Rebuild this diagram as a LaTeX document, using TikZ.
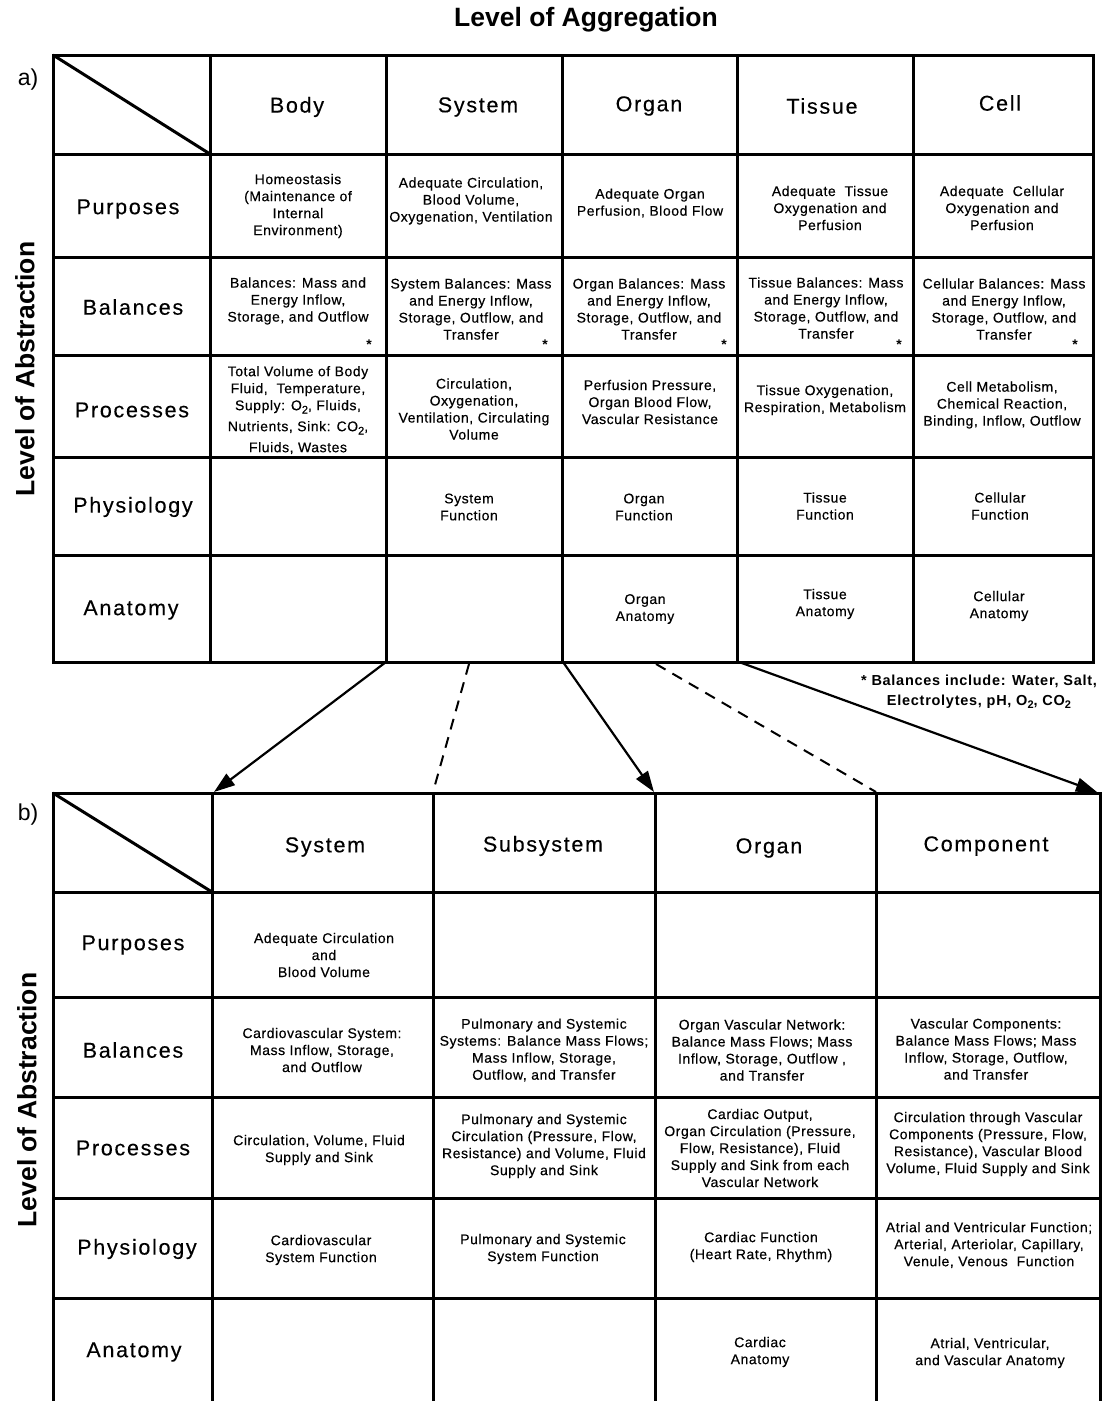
\documentclass[tikz,border=0pt]{standalone}
\usepackage{fontspec}
\setmainfont{Liberation Sans}
\newfontfamily\cellfont[LetterSpace=4,FakeBold=0.4]{Liberation Sans}
\newfontfamily\headfont[LetterSpace=8,FakeBold=0.3]{Liberation Sans}
\newfontfamily\notefont[LetterSpace=5]{Liberation Sans}
\usetikzlibrary{arrows.meta}
% lowered subscript digit for chemical formulas
\newcommand\lowtwo{\raisebox{-0.45ex}{\fontsize{11}{11}\selectfont 2}}
\tikzset{
  grid line/.style={line width=3pt},
  cell/.style={font=\cellfont\fontsize{14}{17}\selectfont, align=center, inner sep=0pt},
  head/.style={font=\headfont\fontsize{21.5}{24}\selectfont, inner sep=0pt},
  axis title/.style={font=\bfseries\fontsize{26.5}{29}\selectfont, inner sep=0pt},
  tag/.style={font=\fontsize{23}{26}\selectfont, inner sep=0pt},
  star/.style={font=\bfseries\fontsize{14}{14}\selectfont, inner sep=0pt},
  note/.style={font=\notefont\bfseries\fontsize{14.5}{20}\selectfont, align=center, inner sep=0pt},
  link/.style={line width=2.2pt, -{Triangle[length=21pt,width=14pt]}},
  hint/.style={line width=2pt, dash pattern=on 11pt off 8pt},
}
\begin{document}
\begin{tikzpicture}[x=1pt,y=-1pt]
\useasboundingbox (0,0) rectangle (1106,1401);

% ---------- titles ----------
\node[axis title] (aggr) at (586,20) {Level of Aggregation};
\node[axis title, rotate=90] (abs-a) at (25,369) {Level of Abstraction};
\node[axis title, rotate=90] (abs-b) at (27,1100) {Level of Abstraction};
\node[tag] (tag-a) at (28,80) {a)};
\node[tag] (tag-b) at (28,815) {b)};

% ---------- table a: grid ----------
\draw[grid line] (53,55) rectangle (1093,662);
\foreach \x in {210,386,562,737,913} \draw[grid line] (\x,55) -- (\x,662);
\foreach \y in {154,257,355,457,555} \draw[grid line] (53,\y) -- (1093,\y);
\draw[grid line] (53,55) -- (210,154);

% column headings
\node[head] (a-body) at (297,107) {Body};
\node[head] (a-sys)  at (478,107) {System};
\node[head] (a-org)  at (649,106) {Organ};
\node[head] (a-tis)  at (822,106) {Tissue};
\node[head] (a-cell) at (1000,103) {Cell};
% row headings
\node[head] (a-pur) at (128,209) {Purposes};
\node[head] (a-bal) at (133,307) {Balances};
\node[head] (a-pro) at (132,410) {Processes};
\node[head] (a-phy) at (133,507) {Physiology};
\node[head] (a-ana) at (131,610) {Anatomy};

% purposes
\node[cell] (a-pur-body) at (298,206) {Homeostasis\\(Maintenance of\\Internal\\Environment)};
\node[cell] (a-pur-sys)  at (471,201) {Adequate Circulation,\\Blood Volume,\\Oxygenation, Ventilation};
\node[cell] (a-pur-org)  at (650,203) {Adequate Organ\\Perfusion, Blood Flow};
\node[cell] (a-pur-tis)  at (830,208) {Adequate\ \ Tissue\\Oxygenation and\\Perfusion};
\node[cell] (a-pur-cell) at (1002,208) {Adequate\ \ Cellular\\Oxygenation and\\Perfusion};
% balances
\node[cell] (a-bal-body) at (298,301) {Balances: Mass and\\Energy Inflow,\\Storage, and Outflow};
\node[cell] (a-bal-sys)  at (471,309) {System Balances: Mass\\and Energy Inflow,\\Storage, Outflow, and\\Transfer};
\node[cell] (a-bal-org)  at (649,309) {Organ Balances: Mass\\and Energy Inflow,\\Storage, Outflow, and\\Transfer};
\node[cell] (a-bal-tis)  at (826,308) {Tissue Balances: Mass\\and Energy Inflow,\\Storage, Outflow, and\\Transfer};
\node[cell] (a-bal-cell) at (1004,309) {Cellular Balances: Mass\\and Energy Inflow,\\Storage, Outflow, and\\Transfer};
\node[star] (st1) at (369,345) {*};
\node[star] (st2) at (545,345) {*};
\node[star] (st3) at (724,345) {*};
\node[star] (st4) at (899,345) {*};
\node[star] (st5) at (1075,345) {*};
% processes
\node[cell] (a-pro-body) at (298,410) {Total Volume of Body\\Fluid,\ \ Temperature,\\Supply: O\lowtwo, Fluids,\\[4pt]Nutrients, Sink: CO\lowtwo,\\[4pt]Fluids, Wastes};
\node[cell] (a-pro-sys)  at (474,409) {Circulation,\\Oxygenation,\\Ventilation, Circulating\\Volume};
\node[cell] (a-pro-org)  at (650,402) {Perfusion Pressure,\\Organ Blood Flow,\\Vascular Resistance};
\node[cell] (a-pro-tis)  at (825,400) {Tissue Oxygenation,\\Respiration, Metabolism};
\node[cell] (a-pro-cell) at (1002,405) {Cell Metabolism,\\Chemical Reaction,\\Binding, Inflow, Outflow};
% physiology
\node[cell] (a-phy-sys)  at (469,507) {System\\Function};
\node[cell] (a-phy-org)  at (644,507) {Organ\\Function};
\node[cell] (a-phy-tis)  at (825,506) {Tissue\\Function};
\node[cell] (a-phy-cell) at (1000,506) {Cellular\\Function};
% anatomy
\node[cell] (a-ana-org)  at (645,609) {Organ\\Anatomy};
\node[cell] (a-ana-tis)  at (825,604) {Tissue\\Anatomy};
\node[cell] (a-ana-cell) at (999,606) {Cellular\\Anatomy};

% footnote
\node[note] (fn) at (979,692) {* Balances include: Water, Salt,\\Electrolytes, pH, O\lowtwo, CO\lowtwo};

% ---------- table b: grid (runs off the lower edge) ----------
\draw[grid line] (53,1410) -- (53,793) -- (1100,793) -- (1100,1410);
\foreach \x in {212,433,655,876} \draw[grid line] (\x,793) -- (\x,1410);
\foreach \y in {892,997,1097,1198,1298} \draw[grid line] (53,\y) -- (1100,\y);
\draw[grid line] (53,793) -- (212,892);

% column headings
\node[head] (b-sys) at (325,847) {System};
\node[head] (b-sub) at (543,846) {Subsystem};
\node[head] (b-org) at (769,848) {Organ};
\node[head] (b-com) at (986,846) {Component};
% row headings
\node[head] (b-pur) at (133,945) {Purposes};
\node[head] (b-bal) at (133,1050) {Balances};
\node[head] (b-pro) at (133,1148) {Processes};
\node[head] (b-phy) at (137,1249) {Physiology};
\node[head] (b-ana) at (134,1352) {Anatomy};

% purposes
\node[cell] (b-pur-sys) at (324,955) {Adequate Circulation\\and\\Blood Volume};
% balances
\node[cell] (b-bal-sys) at (322,1050) {Cardiovascular System:\\Mass Inflow, Storage,\\and Outflow};
\node[cell] (b-bal-sub) at (544,1050) {Pulmonary and Systemic\\Systems: Balance Mass Flows;\\Mass Inflow, Storage,\\Outflow, and Transfer};
\node[cell] (b-bal-org) at (762,1050) {Organ Vascular Network:\\Balance Mass Flows; Mass\\Inflow, Storage, Outflow ,\\and Transfer};
\node[cell] (b-bal-com) at (986,1049) {Vascular Components:\\Balance Mass Flows; Mass\\Inflow, Storage, Outflow,\\and Transfer};
% processes
\node[cell] (b-pro-sys) at (319,1150) {Circulation, Volume, Fluid\\Supply and Sink};
\node[cell] (b-pro-sub) at (544,1146) {Pulmonary and Systemic\\Circulation (Pressure, Flow,\\Resistance) and Volume, Fluid\\Supply and Sink};
\node[cell] (b-pro-org) at (760,1148) {Cardiac Output,\\Organ Circulation (Pressure,\\Flow, Resistance), Fluid\\Supply and Sink from each\\Vascular Network};
\node[cell] (b-pro-com) at (988,1144) {Circulation through Vascular\\Components (Pressure, Flow,\\Resistance), Vascular Blood\\Volume, Fluid Supply and Sink};
% physiology
\node[cell] (b-phy-sys) at (321,1250) {Cardiovascular\\System Function};
\node[cell] (b-phy-sub) at (543,1249) {Pulmonary and Systemic\\System Function};
\node[cell] (b-phy-org) at (761,1247) {Cardiac Function\\(Heart Rate, Rhythm)};
\node[cell] (b-phy-com) at (989,1245) {Atrial and Ventricular Function;\\Arterial, Arteriolar, Capillary,\\Venule, Venous\ \ Function};
% anatomy
\node[cell] (b-ana-org) at (760,1352) {Cardiac\\Anatomy};
\node[cell] (b-ana-com) at (990,1353) {Atrial, Ventricular,\\and Vascular Anatomy};

% ---------- mapping between the two tables ----------
\coordinate (a-sys-low) at (386,662);
\coordinate (a-sys-mid) at (469,664);
\coordinate (a-org-low) at (563,662);
\coordinate (a-org-mid) at (656,664);
\coordinate (a-tis-low) at (739,662);
\coordinate (b-sys-top) at (214,792);
\coordinate (b-sub-top) at (433,792);
\coordinate (b-org-top) at (654,792);
\coordinate (b-com-top) at (876,792);
\coordinate (b-end-top) at (1097,792);

\draw[link] (a-sys-low) -- (b-sys-top);
\draw[hint] (a-sys-mid) -- (b-sub-top);
\draw[link] (a-org-low) -- (b-org-top);
\draw[hint] (a-org-mid) -- (b-com-top);
\draw[link] (a-tis-low) -- (b-end-top);
\end{tikzpicture}
\end{document}
